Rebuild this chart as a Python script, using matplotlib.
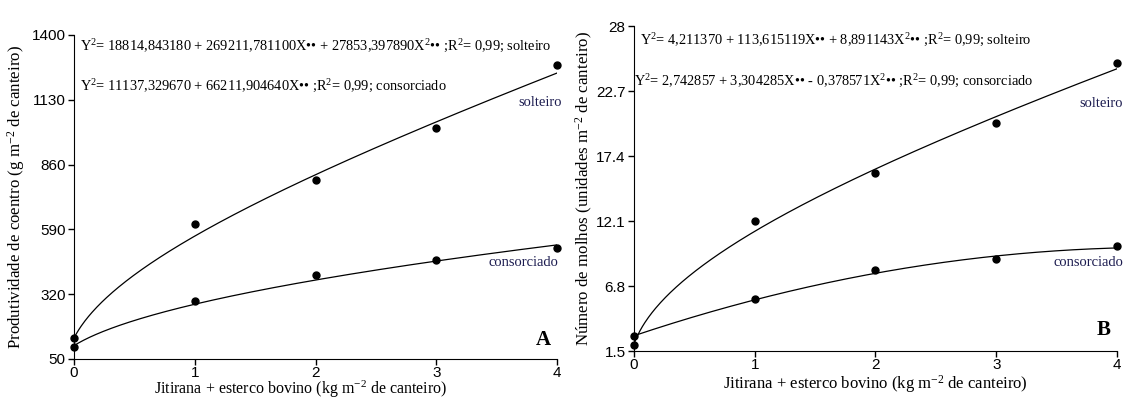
import numpy as np
import matplotlib.pyplot as plt

plt.rcParams['font.family'] = ['Liberation Serif', 'DejaVu Serif']
plt.rcParams['mathtext.fontset'] = 'custom'
plt.rcParams['mathtext.rm'] = 'Liberation Serif'
plt.rcParams['mathtext.it'] = 'Liberation Serif:italic'

# ------------------------- Data ------------------------- #
doses = [0, 1, 2, 3, 4]

# produtividade de coentro (g m-2 de canteiro)
coentro_solteiro = [139, 612, 795, 1011, 1275]
coentro_consorciado = [101, 292, 401, 464, 511]

# numero de molhos (unidades m-2 de canteiro)
molhos_solteiro = [1.96, 12.1, 16.0, 20.1, 25.0]
molhos_consorciado = [2.72, 5.74, 8.08, 9.0, 10.08]

# regression coefficients a + bX + cX^2
coef_coentro_solteiro = [18814.843180, 269211.781100, 27853.397890]
coef_coentro_consorciado = [11137.329670, 66211.904640, 0.0]
coef_molhos_solteiro = [4.211370, 113.615119, 8.891143]
coef_molhos_consorciado = [2.742857, 3.304285, -0.378571]

yticks_coentro = [50, 320, 590, 860, 1130, 1400]
ylabels_coentro = ['50', '320', '590', '860', '1130', '1400']
yticks_molhos = [1.5, 6.8, 12.1, 17.4, 22.7, 28]
ylabels_molhos = ['1.5', '6.8', '12.1', '17.4', '22.7', '28']

eq_coentro = [
    "Y$\\mathregular{^2}$= 18814,843180 + 269211,781100X\u2022\u2022 + 27853,397890X$\\mathregular{^2}$\u2022\u2022 ;R$\\mathregular{^2}$= 0,99; solteiro",
    "Y$\\mathregular{^2}$= 11137,329670 + 66211,904640X\u2022\u2022 ;R$\\mathregular{^2}$= 0,99; consorciado",
]
eq_molhos = [
    "Y$\\mathregular{^2}$= 4,211370 + 113,615119X\u2022\u2022 + 8,891143X$\\mathregular{^2}$\u2022\u2022 ;R$\\mathregular{^2}$= 0,99; solteiro",
    "Y$\\mathregular{^2}$= 2,742857 + 3,304285X\u2022\u2022 - 0,378571X$\\mathregular{^2}$\u2022\u2022 ;R$\\mathregular{^2}$= 0,99; consorciado",
]

LABEL_COLOR = '#1c1c50'
TICK_FONT = ['Liberation Sans Narrow', 'Liberation Sans', 'DejaVu Sans']
EQ_SIZE = 10.4


def quad(coef, x):
    a, b, c = coef
    return a + b * x + c * x ** 2


def style_axes(ax, yticks, ylabels):
    ax.spines['top'].set_visible(False)
    ax.spines['right'].set_visible(False)
    ax.set_xlim(0, 4)
    ax.set_ylim(yticks[0], yticks[-1])
    ax.set_xticks(doses)
    ax.set_xticklabels([str(d) for d in doses])
    ax.set_yticks(yticks)
    ax.set_yticklabels(ylabels)
    ax.tick_params(direction='out', length=4, width=1, pad=2, labelsize=11)
    ax.tick_params(axis='x', pad=1)
    for lab in ax.get_xticklabels() + ax.get_yticklabels():
        lab.set_family(TICK_FONT)


fig = plt.figure(figsize=(11.26, 3.99), dpi=100)
xs = np.linspace(0, 4, 400)

# ------------------------- Panel A ------------------------- #
ax1 = fig.add_axes([0.0657, 0.1003, 0.429, 0.812])
style_axes(ax1, yticks_coentro, ylabels_coentro)
ax1.plot(xs, np.sqrt(quad(coef_coentro_solteiro, xs)), color='k', lw=0.9)
ax1.plot(xs, np.sqrt(quad(coef_coentro_consorciado, xs)), color='k', lw=0.9)
ax1.plot(doses, coentro_solteiro, 'o', color='k', ms=5, clip_on=False)
ax1.plot(doses, coentro_consorciado, 'o', color='k', ms=5, clip_on=False)
ax1.text(0.012, 0.965, eq_coentro[0], transform=ax1.transAxes, fontsize=EQ_SIZE, va='center')
ax1.text(0.012, 0.84, eq_coentro[1], transform=ax1.transAxes, fontsize=EQ_SIZE, va='center')
ax1.text(4.04, 1117, 'solteiro', ha='right', va='center', fontsize=10.5, color=LABEL_COLOR)
ax1.text(4.01, 450, 'consorciado', ha='right', va='center', fontsize=10.5, color=LABEL_COLOR)
ax1.text(3.95, 130, 'A', ha='right', va='center', fontsize=15, fontweight='bold')
ax1.set_xlabel('Jitirana + esterco bovino (kg m$\\mathregular{^{-2}}$ de canteiro)', fontsize=11.5, labelpad=-1)
ax1.xaxis.label.set_x(0.47)
ax1.set_ylabel('Produtividade de coentro (g m$\\mathregular{^{-2}}$ de canteiro)', fontsize=12.2, labelpad=3)

# ------------------------- Panel B ------------------------- #
ax2 = fig.add_axes([0.563, 0.1203, 0.429, 0.8145])
style_axes(ax2, yticks_molhos, ylabels_molhos)
ax2.plot(xs, np.sqrt(quad(coef_molhos_solteiro, xs)), color='k', lw=0.9)
ax2.plot(xs, quad(coef_molhos_consorciado, xs), color='k', lw=0.9)
ax2.plot(doses, molhos_solteiro, 'o', color='k', ms=5, clip_on=False)
ax2.plot(doses, molhos_consorciado, 'o', color='k', ms=5, clip_on=False)
ax2.text(0.012, 0.955, eq_molhos[0], transform=ax2.transAxes, fontsize=EQ_SIZE, va='center')
ax2.text(0.0, 0.83, eq_molhos[1], transform=ax2.transAxes, fontsize=EQ_SIZE, va='center')
ax2.text(4.05, 21.7, 'solteiro', ha='right', va='center', fontsize=10.5, color=LABEL_COLOR)
ax2.text(4.05, 8.75, 'consorciado', ha='right', va='center', fontsize=10.5, color=LABEL_COLOR)
ax2.text(3.95, 3.2, 'B', ha='right', va='center', fontsize=15, fontweight='bold')
ax2.set_xlabel('Jitirana + esterco bovino (kg m$\\mathregular{^{-2}}$ de canteiro)', fontsize=12, labelpad=1)
ax2.set_ylabel('Número de molhos (unidades m$\\mathregular{^{-2}}$ de canteiro)', fontsize=12.2, labelpad=1)

fig.savefig('out.png', dpi=100)
